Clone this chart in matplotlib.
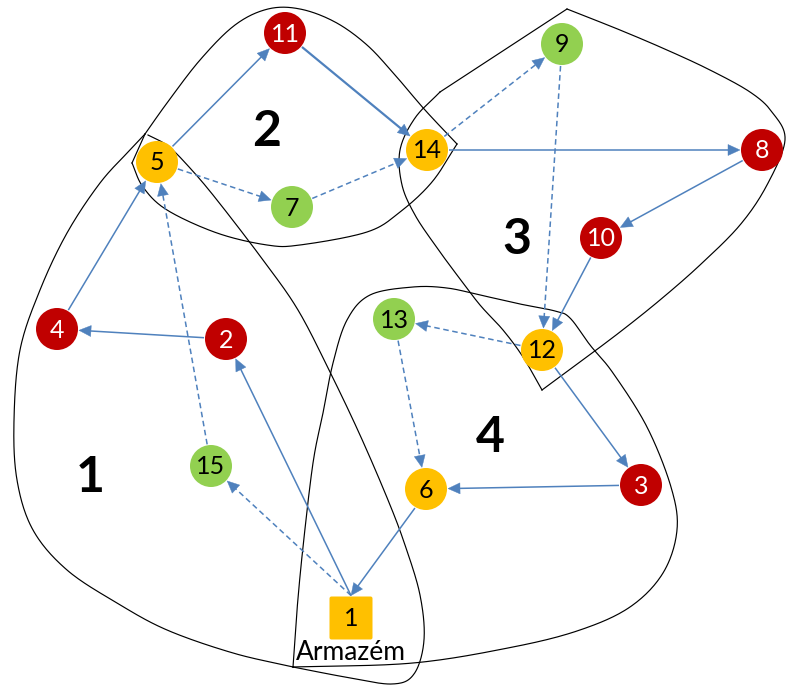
import numpy as np
import matplotlib.pyplot as plt
from matplotlib.patches import Circle, FancyBboxPatch, Polygon

# nodes (pixel positions)
node_ids = ['1', '2', '3', '4', '5', '6', '7', '8', '9', '10', '11', '12', '13', '14', '15']
node_x = [351, 226, 641, 57, 157, 426, 292, 762, 562, 601, 285, 542, 394, 427, 211]
node_y = [618, 339, 485, 329, 162, 489, 207, 150, 44, 238, 33, 350, 319, 150, 466]
node_kind = ['depot', 'red', 'red', 'red', 'orange', 'orange', 'green', 'red',
             'green', 'red', 'red', 'orange', 'green', 'orange', 'green']

solid_edges = [('4', '5'), ('5', '11'), ('11', '14'), ('14', '8'), ('8', '10'),
               ('10', '12'), ('12', '3'), ('3', '6'), ('6', '1'), ('1', '2'), ('2', '4')]
dashed_edges = [('1', '15'), ('15', '5'), ('5', '7'), ('7', '14'), ('14', '9'),
                ('9', '12'), ('12', '13'), ('13', '6')]

cluster_labels = ['1', '2', '3', '4']
cluster_x = [90, 267, 517, 490]
cluster_y = [478, 131, 240, 437]

# cluster outlines: each one is a list of smooth strokes joined at corners
outline_1 = [
    [(145, 134), (130, 150), (100, 183), (67, 233), (40, 290), (20, 350), (14, 420),
     (17, 480), (33, 530), (67, 570), (117, 603), (167, 630), (233, 653), (293, 667)],
    [(293, 667), (345, 677), (392, 684), (414, 674), (424, 640), (420, 595), (405, 545),
     (388, 500), (360, 435), (330, 372), (298, 310), (263, 260), (217, 200), (190, 168),
     (168, 146), (148, 135)],
]
outline_2 = [
    [(145, 134), (167, 103), (200, 60), (235, 25), (268, 9), (300, 9), (335, 22),
     (367, 45), (395, 75), (425, 110), (457, 144)],
    [(457, 144), (432, 182), (400, 212), (367, 232), (300, 245), (267, 245), (217, 233),
     (167, 210), (143, 187), (132, 163)],
    [(132, 163), (145, 134)],
]
outline_3 = [
    [(567, 9), (440, 92)],
    [(440, 92), (415, 118), (400, 150), (402, 185), (415, 215), (435, 245), (457, 275),
     (480, 305), (503, 330), (523, 357), (542, 390)],
    [(542, 390), (580, 362), (620, 332), (660, 300), (700, 265), (740, 225), (767, 185),
     (785, 140), (772, 112), (750, 92), (710, 70), (667, 50), (620, 30), (567, 9)],
]
outline_4 = [
    [(293, 667), (297, 610), (303, 547), (313, 463), (323, 413), (333, 363), (347, 320),
     (370, 295), (413, 287), (447, 288), (480, 295), (520, 304), (555, 311), (570, 318),
     (590, 345), (613, 373), (647, 427), (671, 487), (677, 530), (663, 573), (630, 607),
     (580, 630), (513, 647), (413, 663), (293, 667)],
]

node_colors = {'red': '#C00000', 'orange': '#FFC000', 'green': '#92D050', 'depot': '#FFC000'}
text_colors = {'red': 'white', 'orange': 'black', 'green': 'black', 'depot': 'black'}
edge_color = '#4F81BD'
R = 21
DEPOT_HALF = 21.5


def catmull(pts, n=24):
    p = np.array(pts, dtype=float)
    if len(p) < 3:
        return p
    p = np.vstack([2 * p[0] - p[1], p, 2 * p[-1] - p[-2]])
    out = []
    t = np.linspace(0, 1, n, endpoint=False)[:, None]
    for i in range(1, len(p) - 2):
        p0, p1, p2, p3 = p[i - 1], p[i], p[i + 1], p[i + 2]
        seg = 0.5 * ((2 * p1) + (-p0 + p2) * t + (2 * p0 - 5 * p1 + 4 * p2 - p3) * t ** 2
                     + (-p0 + 3 * p1 - 3 * p2 + p3) * t ** 3)
        out.append(seg)
    out.append(p[-2][None, :])
    return np.vstack(out)


def anchor(i, toward):
    cx, cy = node_x[i], node_y[i]
    if node_kind[i] == 'depot':
        return np.array([cx, cy - DEPOT_HALF - 1.0])
    d = np.array(toward, dtype=float) - np.array([cx, cy])
    d /= np.hypot(*d)
    return np.array([cx, cy]) + d * (R + 1.0)


def draw_edge(ax, a, b, dashed=False, lw=1.1):
    ia, ib = node_ids.index(a), node_ids.index(b)
    pb = np.array([node_x[ib], node_y[ib]], dtype=float)
    start = anchor(ia, pb)
    end = anchor(ib, start)
    u = end - start
    u /= np.hypot(*u)
    perp = np.array([-u[1], u[0]])
    hl, hw = 12.0, 5.5
    base = end - u * hl
    kw = dict(color=edge_color, lw=lw, solid_capstyle='butt', zorder=2)
    if dashed:
        kw['dashes'] = (4.0, 2.6)
    ax.plot([start[0], base[0] + u[0]], [start[1], base[1] + u[1]], **kw)
    head = Polygon([end, base + perp * hw, base - perp * hw], closed=True,
                   facecolor=edge_color, edgecolor=edge_color, lw=0.3, zorder=3)
    ax.add_patch(head)


plt.rcParams['lines.scale_dashes'] = False
fig = plt.figure(figsize=(7.87, 6.86), dpi=100)
ax = fig.add_axes([0, 0, 1, 1])
ax.set_xlim(0, 787)
ax.set_ylim(686, 0)
ax.axis('off')

for outline in [outline_1, outline_2, outline_3, outline_4]:
    for stroke in outline:
        c = catmull(stroke)
        ax.plot(c[:, 0], c[:, 1], color='black', lw=0.85, zorder=1)

for a, b in solid_edges:
    draw_edge(ax, a, b, lw=1.6 if (a, b) == ('11', '14') else 1.1)
for a, b in dashed_edges:
    draw_edge(ax, a, b, dashed=True)

for i, nid in enumerate(node_ids):
    k = node_kind[i]
    if k == 'depot':
        ax.add_patch(FancyBboxPatch((node_x[i] - DEPOT_HALF + 2, node_y[i] - DEPOT_HALF + 2),
                                    2 * DEPOT_HALF - 4, 2 * DEPOT_HALF - 4,
                                    boxstyle='round,pad=2', facecolor=node_colors[k],
                                    edgecolor='none', zorder=4))
        ax.text(node_x[i], node_y[i] + 35, 'Armazém', ha='center', va='center',
                fontsize=19, family='Lato', color='black', zorder=5)
    else:
        ax.add_patch(Circle((node_x[i], node_y[i]), R, facecolor=node_colors[k],
                            edgecolor='none', zorder=4))
    ax.text(node_x[i], node_y[i] + 1, nid, ha='center', va='center', fontsize=18,
            family='Lato', color=text_colors[k], zorder=5)

for lab, x, y in zip(cluster_labels, cluster_x, cluster_y):
    ax.text(x, y, lab, ha='center', va='center', fontsize=36, fontweight='bold',
            family='Lato', color='black', zorder=5)

fig.savefig('out.png', dpi=100)
